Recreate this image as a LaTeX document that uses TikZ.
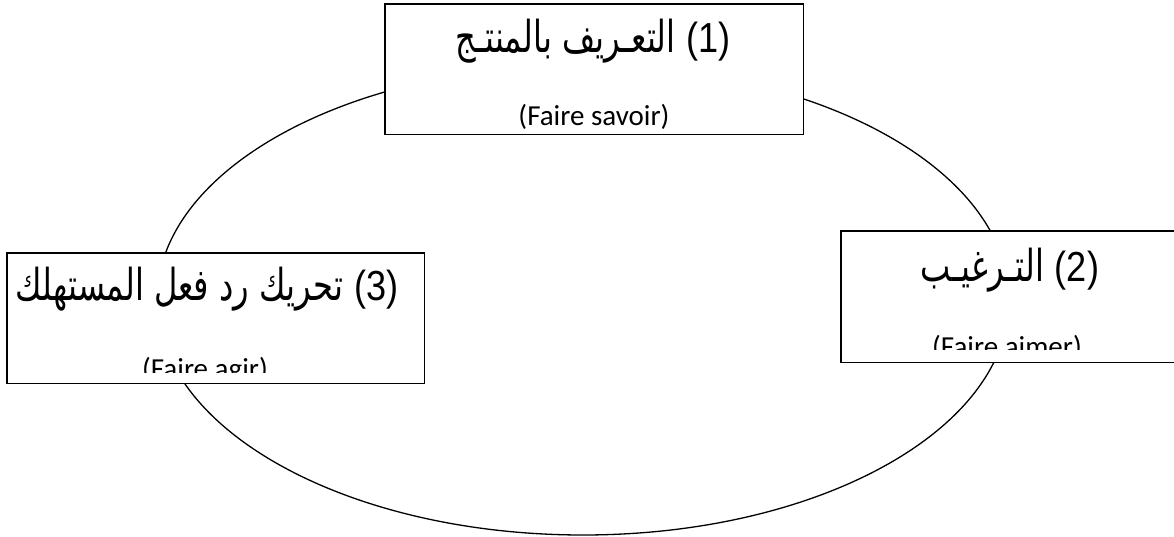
\documentclass[tikz,border=0pt]{standalone}
\usepackage{fontspec}
\usepackage{graphicx}
\usetikzlibrary{shapes.geometric}
\setmainfont{Carlito}
\newfontfamily\arabicfont[Script=Arabic]{DejaVu Sans}
\newfontfamily\digitfont{Liberation Sans}
\TeXXeTstate=1

\tikzset{
  stagebox/.style={fill=white, inner sep=0pt, anchor=north west},
  stageframe/.style={line width=1.6pt},
  cycleline/.style={draw, ellipse, line width=1.3pt, inner sep=0pt},
  titletext/.style={anchor=base, inner sep=0pt},
  subtext/.style={anchor=base, inner sep=0pt, font=\fontsize{29}{35}\selectfont}
}
% Arabic title followed by its number
\newcommand{\artitle}[2]{\scalebox{0.73}[1]{\fontsize{44}{52}\selectfont\arabicfont\beginR #1\endR}\hspace{11pt}\scalebox{0.86}[1]{\fontsize{42}{50}\selectfont\digitfont(#2)}}

\begin{document}
\begin{tikzpicture}[x=1pt,y=-1pt]
  \useasboundingbox (0,0) rectangle (1174,537);

  % the cycle
  \node[cycleline, minimum width=852pt, minimum height=470pt] (cycle) at (583,300) {};

  % stage 1
  \node[stagebox, minimum width=418pt, minimum height=130pt] (s1) at (385,4) {};
  \begin{scope}
    \clip (s1.north west) rectangle (s1.south east);
    \node[titletext] (s1t) at (593,53) {\artitle{التعـريف بالمنتـج}{1}};
    \node[subtext] (s1s) at (594,126) {(Faire savoir)};
  \end{scope}
  \draw[stageframe] (s1.north west) rectangle (s1.south east);

  % stage 2
  \node[stagebox, minimum width=340pt, minimum height=131pt] (s2) at (841,231) {};
  \begin{scope}
    \clip (s2.north west) rectangle ([yshift=13pt]s2.south east);
    \node[titletext] (s2t) at (1010,281) {\artitle{التـرغيـب}{2}};
    \node[subtext] (s2s) at (1007,356) {(Faire aimer)};
  \end{scope}
  \draw[stageframe] (s2.north west) rectangle (s2.south east);

  % stage 3
  \node[stagebox, minimum width=417pt, minimum height=130pt] (s3) at (7,253) {};
  \begin{scope}
    \clip (s3.north west) rectangle ([yshift=11pt]s3.south east);
    \node[titletext] (s3t) at (207,300) {\artitle{تحريك رد فعل المستهلك}{3}};
    \node[subtext] (s3s) at (205,378) {(Faire agir)};
  \end{scope}
  \draw[stageframe] (s3.north west) rectangle (s3.south east);
\end{tikzpicture}
\end{document}
